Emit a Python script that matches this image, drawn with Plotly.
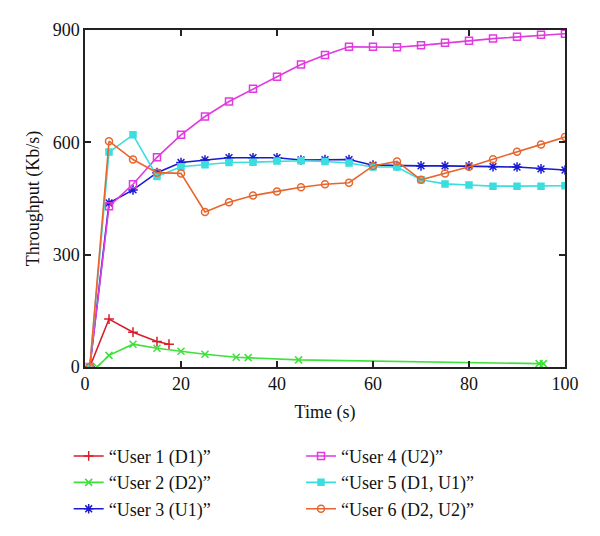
import plotly.graph_objects as go

# ---- data ----
t_main = [1, 5, 10, 15, 20, 25, 30, 35, 40, 45, 50, 55, 60, 65, 70, 75, 80, 85, 90, 95, 100]

t_user1 = [1, 5, 10, 15, 17.5]
y_user1 = [0, 128, 93, 68, 61]

t_user2 = [2.5, 5, 10, 15, 20, 25, 31.5, 34, 44.5, 94.6, 95.5]
y_user2 = [0, 31, 61, 50, 42, 34, 26, 25, 19, 9, 9]

y_user3 = [0, 438, 473, 519, 546, 553, 559, 559, 559, 553, 554, 554, 539, 537, 537, 537, 537, 535, 534, 529, 526]
y_user4 = [0, 429, 488, 560, 620, 669, 709, 743, 775, 808, 833, 855, 855, 854, 859, 866, 871, 877, 882, 887, 890]
y_user5 = [0, 574, 620, 509, 535, 540, 546, 547, 550, 551, 549, 545, 534, 534, 500, 489, 486, 483, 483, 483, 484]
y_user6 = [0, 603, 554, 519, 517, 414, 440, 458, 469, 480, 488, 492, 537, 549, 500, 517, 535, 555, 575, 594, 614]

names = ["\u201cUser 1 (D1)\u201d", "\u201cUser 2 (D2)\u201d", "\u201cUser 3 (U1)\u201d",
         "\u201cUser 4 (U2)\u201d", "\u201cUser 5 (D1, U1)\u201d", "\u201cUser 6 (D2, U2)\u201d"]

x_ticks = [0, 20, 40, 60, 80, 100]
y_ticks = [0, 300, 600, 900]

colors = ["#d81e2a", "#3ee03a", "#1a1ad0", "#e03ae0", "#3adede", "#e8662e"]
symbols = ["cross-thin", "x-thin", "asterisk", "square-open", "square", "circle-open"]
sizes = [7, 7, 8, 7, 6, 7]

series = [
    (t_user1, y_user1, "legend"),
    (t_user2, y_user2, "legend"),
    (t_main, y_user3, "legend"),
    (t_main, y_user4, "legend2"),
    (t_main, y_user5, "legend2"),
    (t_main, y_user6, "legend2"),
]

FONT = "Liberation Serif"

fig = go.Figure()
for i, (xs, ys, lg) in enumerate(series):
    fig.add_trace(go.Scatter(
        x=xs, y=ys, mode="lines+markers", name=names[i], legend=lg,
        line=dict(color=colors[i], width=1.6),
        marker=dict(symbol=symbols[i], size=sizes[i], color=colors[i],
                    line=dict(color=colors[i], width=1.5)),
    ))

axis_common = dict(
    showgrid=False, zeroline=False, showline=True, linecolor="#222", linewidth=1.5,
    mirror="ticks", ticks="inside", ticklen=6, tickcolor="#222", tickwidth=1.5,
    tickfont=dict(family=FONT, size=18, color="#111"),
)

fig.update_xaxes(range=[0, 100], tickvals=x_ticks,
                 title=dict(text="Time (s)", font=dict(family=FONT, size=18, color="#111"), standoff=12),
                 **axis_common)
fig.update_yaxes(range=[0, 900], tickvals=y_ticks,
                 title=dict(text="Throughput (Kb/s)", font=dict(family=FONT, size=18, color="#111"), standoff=8),
                 **axis_common)

legend_common = dict(
    orientation="v", yanchor="top", xanchor="left",
    font=dict(family=FONT, size=18, color="#111"),
    bgcolor="rgba(0,0,0,0)", tracegroupgap=0, itemwidth=30,
)

fig.update_layout(
    width=592, height=528,
    margin=dict(l=77, r=35, t=22, b=169, autoexpand=False),
    plot_bgcolor="white", paper_bgcolor="white",
    font=dict(family=FONT, size=18, color="#111"),
    legend=dict(x=-0.034, y=-0.21, **legend_common),
    legend2=dict(x=0.45, y=-0.21, **legend_common),
    showlegend=True,
)

fig.write_html("out.html")
